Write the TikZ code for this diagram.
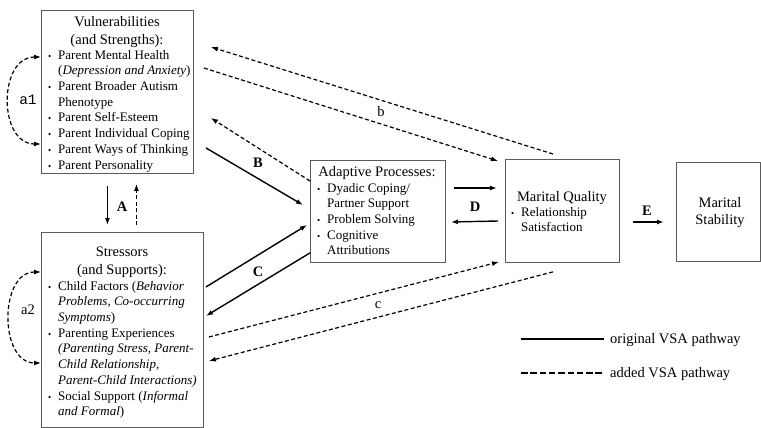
\documentclass[tikz,border=0pt]{standalone}
\usepackage{fontspec}
\setmainfont{Liberation Serif}
\setmonofont{Liberation Mono}
\usepackage{tikz}
\usetikzlibrary{arrows.meta}
\definecolor{vframe}{HTML}{5A5A5A}
\newcommand{\blt}{\makebox[10pt][l]{\fontsize{9}{9}\selectfont\textbullet}}
\newcommand{\bind}{\hspace*{10pt}}
\tikzset{
  vbox/.style={draw=vframe, line width=0.9pt, inner sep=0pt, anchor=north west},
  vtitle/.style={font=\fontsize{14.5}{18}\selectfont, align=center, inner sep=0pt, anchor=north},
  vlist/.style={font=\fontsize{13}{15.7}\selectfont, align=left, inner sep=0pt, anchor=north west},
  vlabel/.style={font=\fontsize{14.5}{17}\selectfont\bfseries, inner sep=0pt},
  vsmall/.style={font=\fontsize{14.5}{17}\selectfont, inner sep=0pt},
  vpath/.style={line width=1.4pt, -{Latex[length=7pt,width=5pt]}},
  vadded/.style={line width=1.2pt, dash pattern=on 4pt off 2.5pt, -{Latex[length=7pt,width=5pt]}},
}

\begin{document}
\begin{tikzpicture}[x=1pt, y=-1pt]
\useasboundingbox (0,0) rectangle (761,428);

\node[vbox, minimum width=152pt, minimum height=163pt] (vuln) at (41,10) {};
\node[vbox, minimum width=162pt, minimum height=195pt] (stress) at (41,232) {};
\node[vbox, minimum width=135pt, minimum height=102pt] (adapt) at (310,160) {};
\node[vbox, minimum width=114pt, minimum height=103pt] (mq) at (505,159) {};
\node[vbox, minimum width=84pt, minimum height=99pt] (ms) at (676,162) {};

\node[vtitle] (vulntitle) at (117,14) {\strut Vulnerabilities\\(and Strengths):};
\node[vlist] (vulnlist) at (48,48) {\strut\blt Parent Mental Health\\
  \bind(\textit{Depression and Anxiety})\\
  \blt Parent Broader Autism\\
  \bind Phenotype\\
  \blt Parent Self-Esteem\\
  \blt Parent Individual Coping\\
  \blt Parent Ways of Thinking\\
  \blt Parent Personality};

\node[vtitle] (stresstitle) at (122,244) {\strut Stressors\\(and Supports):};
\node[vlist] (stresslist) at (48,279) {\strut\blt Child Factors (\textit{Behavior}\\
  \bind\textit{Problems, Co-occurring}\\
  \bind\textit{Symptoms})\\
  \blt Parenting Experiences\\
  \bind\textit{(Parenting Stress, Parent-}\\
  \bind\textit{Child Relationship,}\\
  \bind\textit{Parent-Child Interactions)}\\
  \blt Social Support (\textit{Informal}\\
  \bind\textit{and Formal})};

\node[vtitle] (adapttitle) at (377,164) {\strut Adaptive Processes:};
\node[vlist] (adaptlist) at (317,181) {\strut\blt Dyadic Coping/\\
  \bind Partner Support\\
  \blt Problem Solving\\
  \blt Cognitive\\
  \bind Attributions};

\node[vsmall, anchor=base] (mqtitle) at (562,201.5) {Marital Quality};
\node[vlist, font=\fontsize{13}{15}\selectfont] (mqlist) at (511,205.5) {\strut\blt Relationship\\
  \bind Satisfaction};

\node[vtitle, font=\fontsize{14.5}{17}\selectfont] (mstitle) at (720,195.6) {\strut Marital\\Stability};

% a1 / a2
\draw[line width=1.2pt, dash pattern=on 4pt off 2.5pt, {Latex[length=7pt,width=5pt]}-{Latex[length=7pt,width=5pt]}]
  ([shift={(0,47)}]vuln.north west) .. controls +(-43,0) and +(-43,0) .. ([shift={(0,134)}]vuln.north west);
\draw[line width=1.2pt, dash pattern=on 4pt off 2.5pt, {Latex[length=7pt,width=5pt]}-{Latex[length=7pt,width=5pt]}]
  ([shift={(0,40)}]stress.north west) .. controls +(-42,0) and +(-42,0) .. ([shift={(0,131)}]stress.north west);
\node[vsmall, font=\fontsize{14.5}{17}\selectfont\ttfamily] (a1) at (28,100) {a1};
\node[vsmall] (a2) at (28,310) {a2};

% A
\draw[vpath] ([shift={(-10,12)}]vuln.south) -- ([shift={(-15,-7)}]stress.north);
\draw[vadded] ([shift={(14,-7)}]stress.north) -- ([shift={(19,10)}]vuln.south);
\node[vlabel] (labA) at (122,207) {A};

% B
\draw[vpath] ([shift={(12,-26)}]vuln.south east) -- ([shift={(-7,45)}]adapt.north west);
\draw[vadded] ([shift={(0,21)}]adapt.north west) -- ([shift={(17,108)}]vuln.north east);
\node[vlabel] (labB) at (258,163) {B};

% C
\draw[vpath] ([shift={(2,55)}]stress.north east) -- ([shift={(-3,65)}]adapt.north west);
\draw[vpath] ([shift={(0,-10)}]adapt.south west) -- ([shift={(2,84)}]stress.north east);
\node[vlabel] (labC) at (258,272) {C};

% D
\draw[vpath] ([shift={(8,28)}]adapt.north east) -- ([shift={(-8,29)}]mq.north west);
\draw[vpath] ([shift={(-7,62)}]mq.north west) -- ([shift={(5,62)}]adapt.north east);
\node[vlabel] (labD) at (475,207) {D};

% E
\draw[vpath] ([shift={(13,63)}]mq.north east) -- ([shift={(-12,60)}]ms.north west);
\node[vlabel] (labE) at (647,211) {E};

% b
\draw[vadded] ([shift={(48,-5)}]mq.north west) -- ([shift={(17,37)}]vuln.north east);
\draw[vadded] ([shift={(10,58)}]vuln.north east) -- ([shift={(-7,2)}]mq.north west);
\node[vsmall] (labb) at (381,112) {b};

% c
\draw[vadded] ([shift={(5,105)}]stress.north east) -- ([shift={(-6,-1)}]mq.south west);
\draw[vadded] ([shift={(48,9)}]mq.south west) -- ([shift={(5,129)}]stress.north east);
\node[vsmall] (labc) at (378,305) {c};

% legend
\coordinate (legsolid) at (521,339);
\coordinate (legdash) at (521,373);
\draw[line width=2.2pt] (legsolid) -- ++(83,0);
\draw[line width=2.2pt, dash pattern=on 6.5pt off 2.8pt] (legdash) -- ++(83,0);
\node[vsmall, anchor=base west] (legsolidtext) at (610,343.5) {original VSA pathway};
\node[vsmall, anchor=base west] (legdashtext) at (610,377.5) {added VSA pathway};
\end{tikzpicture}
\end{document}
